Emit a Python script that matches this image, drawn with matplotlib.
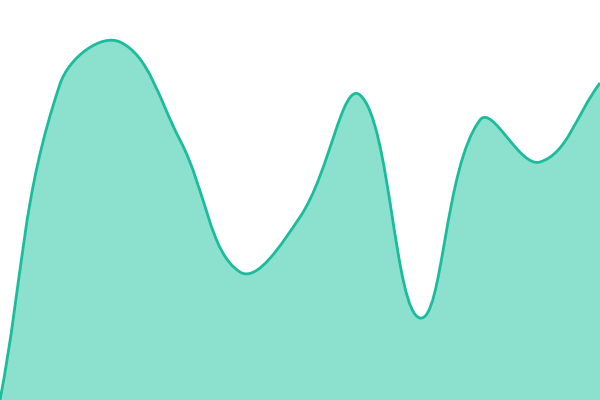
import numpy as np
import matplotlib
matplotlib.use("Agg")
import matplotlib.pyplot as plt
from matplotlib.path import Path
from matplotlib.patches import PathPatch

# data
labels = list(range(11))
values = [0, 316, 358, 260, 128, 183, 305, 82, 280, 238, 317]

line_color = "#1abc9c"
fill_color = "#8ce0ce"
tension = 0.4

fig = plt.figure(figsize=(6, 4), dpi=100)
ax = fig.add_axes([0, 0, 1, 1])
ax.set_xlim(0, 600)
ax.set_ylim(0, 400)
ax.axis("off")

# map categories onto the 600px wide axis
xs = np.array(labels, dtype=float) * 600 / (len(labels) - 1)
ys = np.array(values, dtype=float)
pts = np.column_stack([xs, ys])

# chart.js style spline control points
n = len(pts)
cp_prev = pts.copy()
cp_next = pts.copy()
for i in range(n):
    prev = pts[max(i - 1, 0)]
    cur = pts[i]
    nxt = pts[min(i + 1, n - 1)]
    d01 = np.hypot(*(cur - prev))
    d12 = np.hypot(*(nxt - cur))
    s = d01 + d12
    fa = tension * d01 / s if s else 0
    fb = tension * d12 / s if s else 0
    cp_prev[i] = cur - fa * (nxt - prev)
    cp_next[i] = cur + fb * (nxt - prev)

verts = [pts[0]]
codes = [Path.MOVETO]
for i in range(n - 1):
    verts += [cp_next[i], cp_prev[i + 1], pts[i + 1]]
    codes += [Path.CURVE4] * 3

line_path = Path(verts, codes)
fill_verts = verts + [(xs[-1], 0), (xs[0], 0), pts[0]]
fill_codes = codes + [Path.LINETO, Path.LINETO, Path.CLOSEPOLY]
fill_path = Path(fill_verts, fill_codes)

ax.add_patch(PathPatch(fill_path, facecolor=fill_color, edgecolor="none"))
ax.add_patch(PathPatch(line_path, facecolor="none", edgecolor=line_color, lw=2.0))

fig.savefig("out.png", dpi=100)
